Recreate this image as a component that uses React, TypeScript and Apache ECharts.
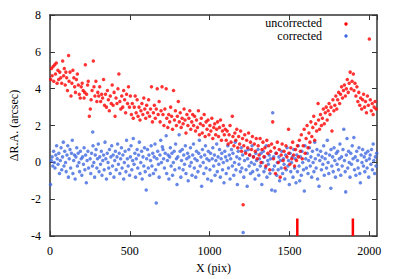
import React, { useEffect, useRef } from "react";
import * as echarts from "echarts";

const xTicks = [0, 500, 1000, 1500, 2000];
const yTicks = [-4, -2, 0, 2, 4, 6, 8];
const seriesNames = ["uncorrected", "corrected"];
const markerX = [1549, 1897];
const markerY = [-4, -3.05];

const uncorrected: [number, number][] = [
  [5,4.5],[10,5.1],[14,4.7],[20,5.2],[24,4.4],[30,5.3],[35,4.8],[40,5.4],[45,4.3],[50,5.0],[55,4.5],[62,4.9],[68,4.6],[74,4.3],[80,5.5],[86,4.7],[90,5.1],[96,4.2],[100,4.9],
  [105,4.6],[110,3.9],[117,5.8],[120,4.4],[126,4.9],[132,3.6],[138,4.3],[144,5.0],[150,4.6],[155,4.1],[160,3.8],[166,4.5],[172,4.8],[178,4.2],[184,3.7],[190,3.5],[196,4.1],[202,4.3],[208,3.9],[214,3.5],[218,3.8],[222,5.3],[230,3.7],[236,4.2],[240,4.4],[247,2.5],[253,2.9],[258,3.4],[264,3.9],[272,5.5],[276,4.1],[282,3.6],[288,4.4],[294,3.3],[300,3.8],
  [306,3.6],[312,4.1],[318,3.3],[324,3.7],[330,3.5],[336,4.5],[342,3.1],[348,3.7],[354,3.0],[360,3.9],[366,3.4],[372,2.8],[378,3.6],[384,3.2],[390,4.2],[396,3.1],[402,3.8],[408,2.5],[414,3.5],[420,3.2],[426,4.0],[432,4.8],[438,3.3],[444,2.9],[450,3.6],[456,3.0],[462,3.9],[468,3.4],[474,2.7],[480,3.7],[486,3.2],[492,4.1],[498,3.0],
  [504,3.6],[510,2.6],[516,3.2],[522,2.4],[528,3.0],[534,3.6],[540,2.7],[546,3.4],[552,2.5],[558,3.0],[564,2.3],[570,2.8],[576,3.2],[582,2.6],[588,3.5],[594,2.9],[600,2.4],[606,3.1],[612,2.7],[618,3.4],[624,2.5],[630,2.9],[636,4.1],[642,2.2],[648,2.7],[654,3.1],[660,2.4],[666,2.9],[672,4.0],[678,2.6],[684,3.3],[690,2.2],[696,2.8],
  [702,4.1],[708,2.6],[714,2.0],[720,2.9],[728,4.0],[732,2.4],[738,1.9],[744,2.6],[750,2.2],[756,3.0],[762,2.5],[768,1.8],[774,3.9],[780,2.3],[786,2.8],[792,2.0],[798,2.5],[804,3.3],[810,2.2],[816,2.7],[822,1.9],[828,2.4],[834,2.1],[840,2.9],[846,2.3],[852,1.6],[858,2.6],[864,2.0],[870,2.4],[876,2.8],[882,1.8],[888,2.2],[894,2.6],
  [900,2.0],[906,2.5],[912,1.7],[918,2.3],[924,1.9],[930,2.8],[936,1.5],[942,2.1],[948,2.4],[954,1.6],[960,2.0],[966,2.6],[972,1.4],[978,2.2],[984,1.8],[990,2.3],[996,1.5],[1002,2.0],[1008,1.7],[1014,2.4],[1020,1.3],[1026,1.9],[1032,2.1],[1038,1.5],[1044,1.8],[1050,2.2],[1056,1.4],[1062,1.9],[1068,2.3],[1074,1.2],[1080,1.7],[1086,2.0],[1092,1.5],[1098,1.8],
  [1104,1.2],[1110,1.7],[1116,1.0],[1122,1.5],[1128,2.0],[1134,1.1],[1142,2.5],[1146,1.4],[1152,0.9],[1158,1.6],[1164,1.2],[1170,1.8],[1176,0.8],[1182,1.4],[1188,1.0],[1194,1.7],[1200,0.6],[1206,1.3],[1210,-2.3],[1214,0.9],[1220,1.5],[1226,0.5],[1232,1.2],[1238,0.8],[1244,1.6],[1250,0.4],[1256,1.1],[1262,0.7],[1268,1.4],[1274,0.3],[1280,1.0],[1286,0.6],[1292,1.3],[1298,0.2],
  [1304,0.9],[1310,0.4],[1316,1.3],[1322,0.0],[1328,0.7],[1334,1.1],[1340,0.3],[1346,0.8],[1352,-0.2],[1358,1.2],[1364,0.5],[1370,0.9],[1376,-0.4],[1382,0.6],[1388,1.0],[1395,2.2],[1400,0.2],[1406,0.8],[1412,-0.6],[1418,0.5],[1424,1.1],[1430,0.0],[1436,0.7],[1442,-0.8],[1448,0.4],[1454,1.0],[1460,0.1],[1466,0.6],[1472,-0.3],[1478,0.9],[1484,0.3],[1494,1.8],[1496,0.5],[1502,-0.1],[1508,0.8],[1514,0.2],[1520,1.1],[1526,0.4],[1532,-0.2],[1538,0.7],[1544,0.1],[1550,0.9],
  [1556,0.3],[1562,1.2],[1568,0.6],[1574,1.5],[1580,0.2],[1586,0.9],[1592,1.8],[1598,0.5],[1604,1.3],[1610,2.0],[1616,0.8],[1622,1.6],[1628,1.1],[1634,2.2],[1640,1.4],[1646,1.9],[1652,2.5],[1658,1.2],[1664,2.1],[1670,1.7],[1679,3.2],[1682,2.3],[1688,1.8],[1694,2.6],[1700,2.0],
  [1706,2.4],[1712,2.9],[1718,2.1],[1724,2.7],[1730,3.0],[1736,2.3],[1742,2.8],[1748,3.2],[1754,2.6],[1760,3.0],[1766,1.7],[1772,3.4],[1778,2.8],[1784,3.1],[1790,3.6],[1796,2.9],[1802,3.4],[1808,3.8],[1814,3.2],[1820,3.7],[1826,4.1],[1832,3.5],[1838,3.9],[1844,4.2],[1850,3.6],[1856,4.0],[1862,4.5],[1868,3.8],[1874,4.3],[1880,4.9],[1886,4.0],[1892,4.4],[1900,4.8],[1904,3.9],[1910,4.3],[1916,3.6],[1922,4.1],[1928,3.3],[1934,3.8],[1940,3.1],[1946,3.5],[1952,2.9],[1958,3.4],[1964,3.7],[1970,3.0],[1976,3.3],[1982,2.7],[1988,3.6],[1994,3.1],[2000,6.7],[2006,3.4],[2012,2.8],[2018,3.2],[2024,2.6],[2030,3.0],[2036,3.3],[2042,2.9]
];

const corrected: [number, number][] = [
  [4,-1.2],[9,0.1],[14,0.3],[18,-0.2],[23,0.6],[28,0.0],[32,-0.3],[37,0.4],[42,0.9],[46,0.2],[51,-0.1],[56,0.5],[60,-0.6],[65,0.1],[70,0.8],[74,-0.4],[79,0.3],[84,1.1],[88,-0.2],[93,0.6],[98,0.0],[102,-0.5],[107,0.4],[112,0.9],[116,-0.8],[121,0.2],[126,0.7],[130,-0.3],[135,0.5],[140,1.2],[144,-0.6],[149,0.1],[154,0.4],[158,-0.9],[163,0.3],[168,0.8],[172,-0.2],[177,0.5],[182,0.0],[186,-0.5],[191,0.6],[196,0.2],
  [200,-0.7],[205,0.3],[210,-0.1],[214,0.8],[219,-0.4],[224,0.4],[228,-1.1],[233,0.1],[238,0.6],[242,-0.3],[268,1.65],[252,0.2],[256,-0.6],[261,0.5],[266,-0.2],[270,0.9],[275,0.0],[280,-0.8],[284,0.4],[289,0.7],[294,-0.3],[298,0.2],[303,1.0],[308,-0.5],[312,0.3],[317,-0.1],[322,0.6],[326,-0.7],[331,0.1],[336,0.4],[340,-0.4],[345,1.1],[350,0.2],[354,-0.9],[359,0.5],[364,0.0],[368,-0.3],[373,0.7],[378,-0.6],[382,0.3],[387,0.9],[392,-0.2],[396,0.4],
  [401,-0.8],[406,0.1],[410,0.6],[415,-0.4],[420,0.3],[424,1.0],[429,-0.1],[434,0.5],[438,-0.6],[443,0.2],[448,0.8],[452,-0.3],[457,0.4],[462,-0.9],[466,0.0],[471,0.6],[476,-0.5],[480,1.2],[485,0.2],[490,-0.2],[494,0.7],[499,-0.7],[504,0.3],[508,0.9],[513,-0.4],[518,0.1],[522,1.3],[527,-0.1],[532,0.5],[536,-0.8],[541,0.2],[546,0.7],[550,-0.3],[555,0.4],[560,1.1],[564,-0.6],[569,0.0],[574,0.6],[578,-0.9],[583,0.3],[588,-0.2],[592,0.8],[597,-0.5],
  [603,-1.5],[606,0.2],[611,0.7],[616,-0.3],[620,0.4],[625,-0.7],[630,0.1],[634,0.9],[639,-0.2],[644,0.5],[648,-0.6],[653,0.3],[658,1.0],[662,-0.4],[666,-2.2],[670,0.2],[675,0.6],[680,-0.1],[684,-0.8],[689,0.4],[694,1.2],[698,0.0],[704,0.85],[708,0.7],[712,0.2],[717,-0.3],[722,0.5],[728,1.45],[731,-0.6],[736,0.1],[740,0.4],[745,-0.9],[750,0.3],[754,0.8],[759,-0.2],[764,0.5],[768,-0.7],[773,0.0],[778,0.6],[782,-0.4],[787,1.0],[792,0.2],[796,-1.2],
  [801,0.3],[809,1.5],[810,-0.3],[815,0.6],[820,-0.8],[824,0.1],[829,0.7],[834,-0.4],[838,0.4],[843,-0.1],[848,0.9],[852,-0.6],[857,0.2],[862,0.5],[866,-1.0],[871,0.3],[876,-0.2],[880,0.8],[885,0.0],[890,-0.7],[894,0.4],[899,1.0],[904,-0.3],[908,0.2],[913,-0.8],[918,0.6],[922,0.1],[927,-0.5],[932,0.5],[936,1.2],[941,-0.2],[946,0.3],[950,-1.3],[955,0.7],[960,0.0],[964,-0.6],[969,0.4],[974,0.9],[978,-0.3],[983,0.2],[988,-0.9],[992,0.6],[997,0.1],
  [1002,-0.4],[1006,0.5],[1011,-1.0],[1016,0.2],[1020,0.8],[1025,-0.2],[1030,0.4],[1034,-0.7],[1039,0.1],[1044,1.0],[1048,-0.5],[1053,0.3],[1058,-0.1],[1062,0.7],[1067,-0.8],[1072,0.2],[1076,0.5],[1081,-0.4],[1086,0.0],[1090,-1.1],[1095,0.6],[1100,0.3],[1104,-0.6],[1109,0.1],[1114,0.9],[1118,-0.3],[1123,0.4],[1128,-0.9],[1132,0.2],[1137,0.7],[1142,-0.2],[1146,0.5],[1151,-0.7],[1156,0.0],[1160,1.1],[1165,-0.4],[1170,0.3],[1174,-1.2],[1179,0.6],[1184,-0.1],[1188,0.2],[1193,-0.5],[1198,0.8],
  [1202,-0.3],[1207,0.4],[1210,-3.8],[1214,-0.8],[1219,0.1],[1224,0.6],[1228,-0.4],[1235,-1.3],[1238,0.2],[1242,0.7],[1247,-0.2],[1252,0.4],[1256,-0.6],[1261,0.0],[1266,0.9],[1270,-0.5],[1275,0.3],[1280,-0.1],[1284,-0.9],[1289,0.5],[1294,0.1],[1298,-0.4],[1303,0.7],[1308,-0.7],[1312,0.2],[1317,-0.2],[1322,0.5],[1327,-1.2],[1331,0.0],[1336,0.6],[1340,-0.5],[1345,0.3],[1350,-0.3],[1354,0.9],[1359,-0.8],[1364,0.1],[1368,-0.1],[1373,0.4],[1378,-0.6],[1382,0.2],[1389,-1.5],[1395,2.7],[1396,-0.4],[1401,0.3],
  [1406,-0.2],[1410,-1.55],[1415,0.5],[1420,-0.7],[1424,0.0],[1429,-0.4],[1434,0.3],[1438,-1.0],[1443,0.1],[1448,-0.3],[1452,0.6],[1457,-0.6],[1462,0.2],[1466,-0.1],[1471,-0.9],[1476,0.4],[1480,-0.4],[1485,0.8],[1490,-0.2],[1494,0.1],[1499,-1.2],[1504,0.5],[1508,-0.5],[1513,0.0],[1518,0.3],[1522,-0.8],[1527,0.7],[1532,-0.3],[1536,0.2],[1541,-1.1],[1546,0.4],[1550,-0.5],[1555,0.9],[1560,-0.2],[1564,-1.0],[1569,0.3],[1574,-0.7],[1578,0.6],[1583,0.0],[1588,-0.4],[1593,-1.55],[1597,0.9],
  [1602,0.2],[1606,-0.3],[1611,0.5],[1616,-0.6],[1620,0.1],[1625,0.8],[1630,-0.2],[1634,0.3],[1639,-0.8],[1644,0.6],[1648,0.0],[1653,-0.5],[1658,1.1],[1662,0.2],[1667,-0.3],[1672,0.7],[1676,-0.9],[1681,0.4],[1685,-1.3],[1690,0.1],[1695,0.6],[1700,-0.4],[1704,0.3],[1709,-0.1],[1714,0.9],[1718,-0.7],[1723,0.2],[1728,0.5],[1732,-0.3],[1737,1.2],[1742,0.0],[1746,-0.6],[1751,0.4],[1759,-1.4],[1760,0.7],[1765,-0.2],[1770,0.3],[1774,-0.5],[1779,0.8],[1784,0.1],[1788,-0.8],[1793,0.5],[1798,-0.1],
  [1802,0.6],[1807,-0.4],[1812,0.2],[1816,1.0],[1821,-0.7],[1826,0.3],[1830,-0.2],[1835,0.7],[1840,1.8],[1844,0.1],[1849,-0.5],[1852,-1.6],[1856,0.4],[1860,1.3],[1865,-0.3],[1870,0.6],[1874,0.0],[1879,-0.8],[1884,0.5],[1888,-0.1],[1893,0.9],[1898,0.2],[1903,1.35],[1907,-0.4],[1912,0.3],[1916,-0.7],[1921,0.6],[1926,0.1],[1930,-0.3],[1935,0.8],[1940,-0.6],[1944,-1.1],[1949,0.4],[1954,0.0],[1958,0.7],[1963,-0.2],[1968,0.3],[1972,-0.5],[1977,0.5],[1982,0.1],[1986,-0.3],[1991,0.6],[1996,-0.8],[2000,0.2],[2005,0.4],[2010,-0.1],[2014,0.7],[2019,-0.4],[2024,1.0],[2028,0.1],[2033,-0.6],[2038,0.3],[2042,-0.2],[2046,0.5]
];

const RED = "#ff0000";
const BLUE = "#4169e1";
const FONT = "Liberation Serif";

export default function App() {
  const ref = useRef<HTMLDivElement>(null);
  useEffect(() => {
    if (!ref.current) return;
    const chart = echarts.init(ref.current, null, { renderer: "svg" });
    const axisLine = { show: true, onZero: false, lineStyle: { color: "#333", width: 1.5 } };
    const tick = { show: true, inside: true, length: 5, lineStyle: { color: "#333", width: 1 } };
    const xFmt = (v: number) => (xTicks.indexOf(v) >= 0 ? String(v) : "");
    const yFmt = (v: number) => (yTicks.indexOf(v) >= 0 ? String(v) : "");
    const markerSeries = markerX.map((mx) => ({
      type: "line",
      data: markerY.map((my) => [mx, my]),
      symbol: "none",
      lineStyle: { color: RED, width: 2.5 },
      silent: true,
      z: 5,
    }));
    chart.setOption({
      animation: false,
      backgroundColor: "#ffffff",
      grid: { left: 45, top: 15, right: 22, bottom: 40, containLabel: false },
      xAxis: [
        {
          type: "value", min: 0, max: 2048, interval: 500,
          axisLine, axisTick: tick, splitLine: { show: false },
          axisLabel: { formatter: xFmt, showMaxLabel: false, fontFamily: FONT, fontSize: 12, color: "#000", margin: 9 },
          name: "X (pix)", nameLocation: "middle", nameGap: 24,
          nameTextStyle: { fontFamily: FONT, fontSize: 12, color: "#000" },
        },
        {
          type: "value", position: "top", min: 0, max: 2048, interval: 500,
          axisLine, axisTick: tick, axisLabel: { show: false }, splitLine: { show: false },
        },
      ],
      yAxis: [
        {
          type: "value", min: -4, max: 8, interval: 2,
          axisLine, axisTick: tick, splitLine: { show: false },
          axisLabel: { formatter: yFmt, fontFamily: FONT, fontSize: 12, color: "#000", margin: 9 },
          name: "ΔR.A. (arcsec)", nameLocation: "middle", nameGap: 28,
          nameTextStyle: { fontFamily: FONT, fontSize: 12, color: "#000" },
        },
        {
          type: "value", position: "right", min: -4, max: 8, interval: 2,
          axisLine, axisTick: tick, axisLabel: { show: false }, splitLine: { show: false },
        },
      ],
      graphic: [
        { type: "text", right: 77, top: 17, style: { text: seriesNames[0], fontFamily: FONT, fontSize: 12, fill: "#000" } },
        { type: "text", right: 77, top: 30, style: { text: seriesNames[1], fontFamily: FONT, fontSize: 12, fill: "#000" } },
        { type: "circle", shape: { cx: 346, cy: 24, r: 1.7 }, style: { fill: RED } },
        { type: "circle", shape: { cx: 346, cy: 36, r: 1.7 }, style: { fill: BLUE } },
      ],
      series: [
        {
          name: seriesNames[1], type: "scatter", data: corrected,
          symbol: "circle", symbolSize: 3.5, itemStyle: { color: BLUE }, z: 2,
        },
        {
          name: seriesNames[0], type: "scatter", data: uncorrected,
          symbol: "circle", symbolSize: 3.5, itemStyle: { color: RED }, z: 3,
        },
        ...markerSeries,
      ],
    });
    return () => chart.dispose();
  }, []);
  return (
    <div
      ref={ref}
      style={{ position: "fixed", left: 0, top: 0, width: 399, height: 279, background: "#fff" }}
    />
  );
}
